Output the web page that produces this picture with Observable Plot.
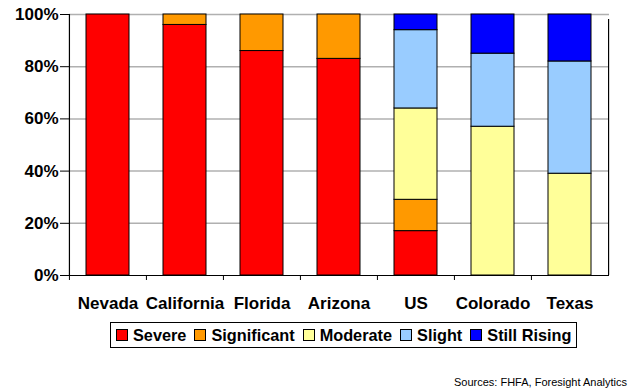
<!DOCTYPE html>
<html>
<head>
<meta charset="utf-8">
<script src="https://cdn.jsdelivr.net/npm/d3@7"></script>
<script src="https://cdn.jsdelivr.net/npm/@observablehq/plot@0.6"></script>
<style>
  html, body { margin: 0; padding: 0; background: #fff; }
  body { width: 636px; height: 390px; position: relative; overflow: hidden; font-family: "Liberation Sans", Arial, Helvetica, sans-serif; }
  #chart { position: absolute; left: 0; top: 0; }
  #legend { position: absolute; left: 110px; top: 322px; height: 24px; border: 1px solid #000; display: flex; align-items: center; padding: 0 5px; box-sizing: content-box; white-space: nowrap; }
  .item { display: flex; align-items: center; margin-right: 8px; font-weight: bold; font-size: 16.3px; color: #000; }
  .item:last-child { margin-right: 0; }
  .sw { width: 10px; height: 10px; border: 1px solid #000; margin-right: 5px; }
  #caption { position: absolute; right: 9px; top: 376px; font-size: 11px; color: #000; }
</style>
</head>
<body>
<div id="chart"></div>
<div id="legend"></div>
<div id="caption">Sources: FHFA, Foresight Analytics</div>
<script>
const categories = ["Nevada", "California", "Florida", "Arizona", "US", "Colorado", "Texas"];
const seriesNames = ["Severe", "Significant", "Moderate", "Slight", "Still Rising"];
const severe      = [100, 96, 86, 83, 17,  0,  0];
const significant = [  0,  4, 14, 17, 12,  0,  0];
const moderate    = [  0,  0,  0,  0, 35, 57, 39];
const slight      = [  0,  0,  0,  0, 30, 28, 43];
const stillRising = [  0,  0,  0,  0,  6, 15, 18];
const seriesColors = ["#ff0000", "#ff9900", "#ffff99", "#99ccff", "#0000ff"];
const yTicks = [0, 20, 40, 60, 80, 100];

const seriesValues = [severe, significant, moderate, slight, stillRising];
const rows = [];
categories.forEach((c, i) => {
  seriesNames.forEach((s, j) => {
    const v = seriesValues[j][i];
    if (v > 0) rows.push({category: c, series: s, value: v});
  });
});

const W = 636, ML = 69, MR = 27;
const step = (W - ML - MR) / categories.length;

const chart = Plot.plot({
  width: W,
  height: 312,
  marginLeft: ML,
  marginRight: MR,
  marginTop: 14,
  marginBottom: 37,
  style: {fontFamily: "'Liberation Sans', Arial, Helvetica, sans-serif", background: "#fff"},
  x: {domain: categories, paddingInner: 0.44, paddingOuter: 0.22, label: null},
  y: {domain: [0, 100], label: null},
  color: {domain: seriesNames, range: seriesColors},
  marks: [
    Plot.ruleY(yTicks.filter(d => d > 0), {stroke: "#b0b0b0", strokeWidth: 1.5}),
    Plot.barY(rows, {x: "category", y: "value", fill: "series", stroke: "#000", strokeWidth: 1, order: seriesNames}),
    Plot.ruleY([0], {stroke: "#000", strokeWidth: 1.2}),
    Plot.ruleX(categories, {x: d => d, y1: 0, y2: 0, insetBottom: -5, dx: -step / 2, stroke: "#000"}),
    Plot.ruleX([categories[0]], {x: d => d, y1: 0, y2: 100, dx: -step / 2, stroke: "#000", strokeWidth: 1.2}),
    Plot.ruleX([categories[categories.length - 1]], {x: d => d, y1: 0, y2: 100, insetBottom: -5, dx: step / 2, stroke: "#000", strokeWidth: 1.2}),
    Plot.axisY({ticks: yTicks, tickFormat: d => d + "%", tickSize: 9, tickPadding: 2, fontSize: 17, fontWeight: "bold", stroke: "#000"}),
    Plot.axisX({tickSize: 0, tickPadding: 21, fontSize: 17, fontWeight: "bold"})
  ]
});
chart.querySelectorAll("text").forEach(t => t.setAttribute("fill", "#000"));
document.getElementById("chart").appendChild(chart);

const legend = document.getElementById("legend");
seriesNames.forEach((s, j) => {
  const item = document.createElement("div");
  item.className = "item";
  const sw = document.createElement("div");
  sw.className = "sw";
  sw.style.background = seriesColors[j];
  const label = document.createElement("span");
  label.textContent = s;
  item.appendChild(sw);
  item.appendChild(label);
  legend.appendChild(item);
});
</script>
</body>
</html>
